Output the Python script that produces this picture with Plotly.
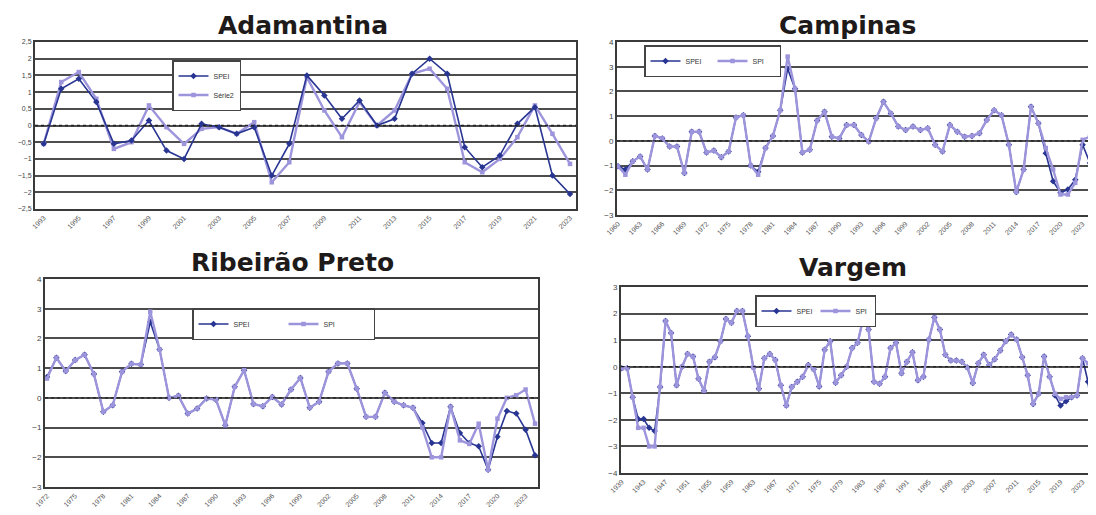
import plotly.graph_objects as go

W, H = 1096, 515
OFF = 8  # page body margin of the browser; layout pixel targets are given in screen coordinates

# ---------------- data ----------------
adam_years = list(range(1993, 2024))
adam_spei = [-0.55, 1.1, 1.4, 0.7, -0.55, -0.45, 0.15, -0.75, -1.0, 0.05, -0.05, -0.25, -0.05, -1.5, -0.55,
             1.5, 0.9, 0.2, 0.75, 0.0, 0.2, 1.55, 2.0, 1.55, -0.65, -1.25, -0.9, 0.05, 0.55, -1.5, -2.05]
adam_serie2 = [-0.55, 1.3, 1.6, 0.8, -0.7, -0.5, 0.6, -0.05, -0.55, -0.1, -0.05, -0.25, 0.1, -1.7, -1.1,
               1.45, 0.45, -0.35, 0.7, 0.0, 0.45, 1.55, 1.7, 1.1, -1.1, -1.4, -1.0, -0.35, 0.6, -0.25, -1.15]
adam_ticks = adam_years[::2]

camp_years = list(range(1960, 2025))
camp_spi = [-1.03, -1.37, -0.83, -0.63, -1.16, 0.2, 0.1, -0.23, -0.23, -1.3,
            0.37, 0.37, -0.47, -0.39, -0.66, -0.43, 0.95, 1.04, -1.0, -1.37,
            -0.29, 0.2, 1.24, 3.41, 2.11, -0.47, -0.36, 0.82, 1.18, 0.17,
            0.1, 0.64, 0.64, 0.24, -0.03, 0.91, 1.58, 1.11, 0.58, 0.44,
            0.58, 0.44, 0.51, -0.16, -0.43, 0.64, 0.37, 0.17, 0.2, 0.31,
            0.84, 1.24, 1.04, -0.16, -2.07, -1.16, 1.38, 0.71, -0.29, -1.16,
            -2.17, -2.17, -1.7, 0.04, 0.17]
camp_spei = [-1.03, -1.16, -0.83, -0.63, -1.16, 0.2, 0.1, -0.23, -0.23, -1.3,
             0.37, 0.37, -0.47, -0.39, -0.66, -0.43, 0.95, 1.04, -1.0, -1.25,
             -0.29, 0.2, 1.24, 2.92, 2.11, -0.47, -0.36, 0.82, 1.18, 0.17,
             0.1, 0.64, 0.64, 0.24, -0.03, 0.91, 1.58, 1.11, 0.58, 0.44,
             0.58, 0.44, 0.51, -0.16, -0.43, 0.64, 0.37, 0.17, 0.2, 0.31,
             0.84, 1.24, 1.04, -0.16, -2.07, -1.16, 1.38, 0.71, -0.5, -1.63,
             -2.1, -1.97, -1.57, -0.16, -0.9]
camp_ticks = camp_years[::3]

rib_years = list(range(1972, 2025))
rib_spi = [0.65, 1.35, 0.9, 1.27, 1.45, 0.8, -0.47, -0.25, 0.88, 1.15,
           1.12, 2.9, 1.63, 0.0, 0.07, -0.53, -0.36, -0.02, -0.06, -0.92,
           0.37, 0.93, -0.21, -0.28, 0.03, -0.22, 0.28, 0.67, -0.33, -0.13,
           0.88, 1.16, 1.16, 0.31, -0.64, -0.64, 0.17, -0.13, -0.25, -0.33,
           -1.0, -2.0, -2.0, -0.3, -1.43, -1.55, -0.87, -2.42, -0.7, 0.0,
           0.09, 0.28, -0.87]
rib_spei = [0.7, 1.35, 0.9, 1.27, 1.45, 0.8, -0.47, -0.25, 0.88, 1.15,
            1.12, 2.55, 1.63, 0.0, 0.07, -0.53, -0.36, -0.02, -0.06, -0.92,
            0.37, 0.93, -0.21, -0.28, 0.03, -0.22, 0.28, 0.67, -0.33, -0.13,
            0.88, 1.16, 1.16, 0.31, -0.64, -0.64, 0.17, -0.13, -0.25, -0.33,
            -0.85, -1.52, -1.52, -0.3, -1.18, -1.52, -1.63, -2.42, -1.31, -0.44,
            -0.53, -1.07, -1.93]
rib_ticks = rib_years[::3]

varg_years = list(range(1939, 2026))
varg_spi = [-0.06, -0.06, -1.15, -2.3, -2.3, -3.0, -3.0, -0.76, 1.72, 1.27,
            -0.7, 0.0, 0.48, 0.38, -0.45, -0.9, 0.19, 0.36, 0.96, 1.8,
            1.65, 2.1, 2.1, 1.15, -0.03, -0.83, 0.32, 0.48, 0.25, -0.7,
            -1.46, -0.76, -0.57, -0.38, 0.06, -0.1, -0.74, 0.64, 0.96, -0.6,
            -0.32, 0.0, 0.7, 0.9, 1.78, 1.4, -0.57, -0.64, -0.38, 0.7,
            0.9, -0.25, 0.19, 0.54, -0.51, -0.38, 1.02, 1.85, 1.4, 0.45,
            0.23, 0.23, 0.19, -0.03, -0.61, 0.13, 0.45, 0.06, 0.28, 0.61,
            0.96, 1.21, 1.02, 0.36, -0.32, -1.4, -1.02, 0.38, -0.38, -1.02,
            -1.21, -1.15, -1.15, -1.08, 0.32, 0.13, -0.1]
varg_spei = [-0.06, -0.06, -1.15, -1.97, -1.97, -2.3, -2.42, -0.76, 1.72, 1.27,
             -0.7, 0.0, 0.48, 0.38, -0.45, -0.9, 0.19, 0.36, 0.96, 1.8,
             1.65, 2.1, 2.1, 1.15, -0.03, -0.83, 0.32, 0.48, 0.25, -0.7,
             -1.46, -0.76, -0.57, -0.38, 0.06, -0.1, -0.74, 0.64, 0.96, -0.6,
             -0.32, 0.0, 0.7, 0.9, 1.78, 1.4, -0.57, -0.64, -0.38, 0.7,
             0.9, -0.25, 0.19, 0.54, -0.51, -0.38, 1.02, 1.85, 1.4, 0.45,
             0.23, 0.23, 0.19, -0.03, -0.61, 0.13, 0.45, 0.06, 0.28, 0.61,
             0.96, 1.21, 1.02, 0.36, -0.32, -1.4, -1.02, 0.38, -0.38, -1.08,
             -1.46, -1.3, -1.15, -1.08, 0.32, -0.57, -2.3]
varg_ticks = list(range(1939, 2024, 4))

titles = ["Adamantina", "Campinas", "Ribeirão Preto", "Vargem"]

# ---------------- styles ----------------
DARK = "#283592"
LIGHT = "#9d95dc"
GRID = "#4d4d4d"
FONT = "Liberation Sans, Arial, sans-serif"


def px_x(sx):
    return (sx - OFF) / W


def px_y(sy):
    return 1 - (sy - OFF) / H


def dom_x(left, right):
    return [max(px_x(left), 0.0), min(px_x(right), 1.0)]


def dom_y(top, bottom):
    return [px_y(bottom), px_y(top)]


def x_range(v_first, v_last, s_first, s_last, s_left, s_right):
    """axis range so that v_first/v_last land on screen pixels s_first/s_last"""
    s_right = min(s_right, W + OFF)
    per = (s_last - s_first) / (v_last - v_first)
    return [v_first - (s_first - s_left) / per, v_first + (s_right - s_first) / per]


fig = go.Figure()


def add_pair(xa, ya, years, spei, spi, spi_name, legend_id, spi_on_top=True):
    spei_tr = go.Scatter(x=years, y=spei, name="SPEI", mode="lines+markers",
                         line=dict(color=DARK, width=1.6),
                         marker=dict(symbol="diamond", size=5, color=DARK),
                         xaxis=xa, yaxis=ya, legend=legend_id, legendrank=1)
    spi_tr = go.Scatter(x=years, y=spi, name=spi_name, mode="lines+markers",
                        line=dict(color=LIGHT, width=2.4),
                        marker=dict(symbol="square", size=4.5, color=LIGHT),
                        xaxis=xa, yaxis=ya, legend=legend_id, legendrank=2)
    if spi_on_top:
        fig.add_trace(spei_tr)
        fig.add_trace(spi_tr)
    else:
        fig.add_trace(spi_tr)
        fig.add_trace(spei_tr)


add_pair("x", "y", adam_years, adam_spei, adam_serie2, "Série2", "legend", spi_on_top=False)
add_pair("x2", "y2", camp_years, camp_spei, camp_spi, "SPI", "legend2")
add_pair("x3", "y3", rib_years, rib_spei, rib_spi, "SPI", "legend3")
add_pair("x4", "y4", varg_years, varg_spei, varg_spi, "SPI", "legend4")


def xaxis(domain, anchor, rng, ticks, mirror=True):
    return dict(domain=domain, anchor=anchor, range=rng, showgrid=False, zeroline=False,
                showline=True, linecolor="#3a3a3a", linewidth=2, mirror=mirror, automargin=False,
                tickmode="array", tickvals=ticks, ticktext=[str(t) for t in ticks],
                tickangle=-45, tickfont=dict(size=7, color="#555", family=FONT), ticks="")


def yaxis(domain, anchor, rng, dtick, mirror=True, size=7):
    return dict(domain=domain, anchor=anchor, range=rng, dtick=dtick, tick0=0,
                showgrid=True, gridcolor=GRID, gridwidth=2, zeroline=False, automargin=False,
                showline=True, linecolor="#3a3a3a", linewidth=2, mirror=mirror,
                tickfont=dict(size=size, color="#444", family=FONT), ticks="")


def legend(sx, sy, orientation, entrywidth=None):
    d = dict(x=px_x(sx), y=px_y(sy), xanchor="left", yanchor="top",
             orientation=orientation, bgcolor="white", bordercolor="#444", borderwidth=1.5,
             font=dict(size=7, color="#333", family=FONT), itemwidth=30, tracegroupgap=0,
             traceorder="normal")
    if entrywidth:
        d["entrywidth"] = entrywidth
        d["entrywidthmode"] = "pixels"
    return d


layout = dict(
    width=W, height=H, margin=dict(l=0, r=0, t=0, b=0, autoexpand=False),
    paper_bgcolor="white", plot_bgcolor="white", separators=",.",
    showlegend=True,
    xaxis=xaxis(dom_x(35, 576), "y", x_range(adam_years[0], adam_years[-1], 43.7, 570, 35, 576), adam_ticks),
    yaxis=yaxis(dom_y(42, 209), "x", [-2.5, 2.5], 0.5),
    xaxis2=xaxis(dom_x(617, 1104), "y2", x_range(camp_years[0], camp_years[-1], 618, 1090, 617, 1104), camp_ticks),
    yaxis2=yaxis(dom_y(42, 215), "x2", [-3, 4], 1, mirror=False, size=8),
    xaxis3=xaxis(dom_x(45, 538), "y3", x_range(rib_years[0], rib_years[-1], 47, 535, 45, 538), rib_ticks),
    yaxis3=yaxis(dom_y(279, 487), "x3", [-3, 4], 1, size=8),
    xaxis4=xaxis(dom_x(621, 1104), "y4", x_range(varg_years[0], varg_years[-2], 621.7, 1088, 621, 1104), varg_ticks),
    yaxis4=yaxis(dom_y(287, 473), "x4", [-4, 3], 1, mirror=False, size=8),
    legend=legend(172, 60, "v"),
    legend2=legend(644, 45, "h", 22),
    legend3=legend(192, 308, "h", 45),
    legend4=legend(755, 295, "h", 14),
)
fig.update_layout(**layout)

# dotted zero reference lines
for xa, ya in [("x", "y"), ("x2", "y2"), ("x3", "y3"), ("x4", "y4")]:
    fig.add_shape(type="line", xref=f"{xa} domain", yref=ya, x0=0, x1=1, y0=0, y1=0,
                  line=dict(color="#222", width=1.3, dash="dot"), layer="above")

# titles
title_pos = [(303, 25), (847, 25), (292, 262), (853, 267)]
for t, (cx, cy) in zip(titles, title_pos):
    fig.add_annotation(text=f"<b>{t}</b>", x=px_x(cx), y=px_y(cy), xref="paper", yref="paper",
                       xanchor="center", yanchor="middle", showarrow=False,
                       font=dict(family="DejaVu Sans, sans-serif", size=25, color="#1e1a1a"))

fig.write_html("out.html")
